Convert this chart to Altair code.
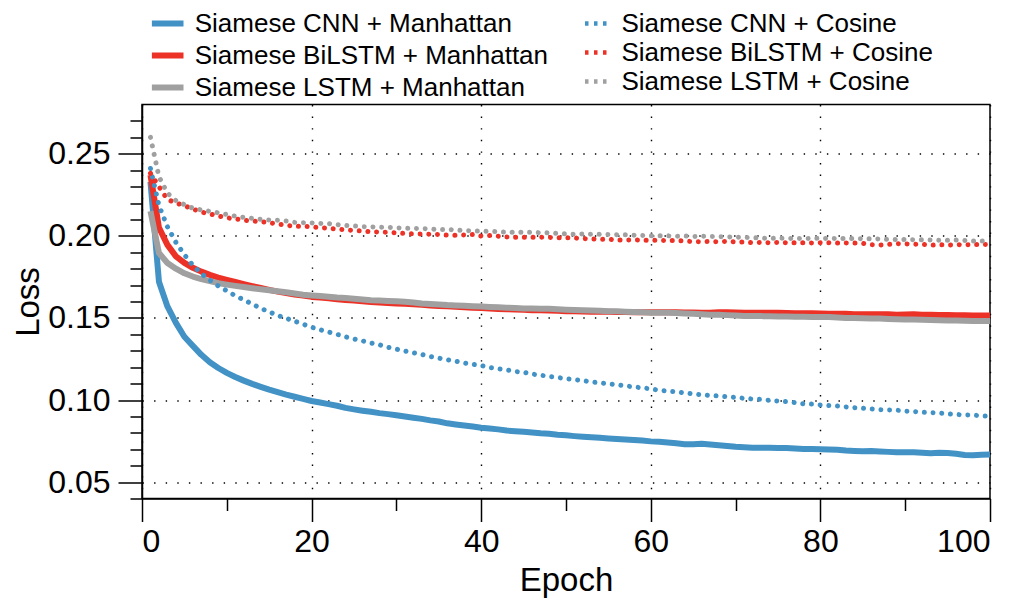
import altair as alt
import pandas as pd

epochs = list(range(1, 101))

cnn_manhattan = [
    0.2330, 0.1720, 0.1570, 0.1470, 0.1385, 0.1330, 0.1275, 0.1230, 0.1195, 0.1165,
    0.1140, 0.1118, 0.1098, 0.1080, 0.1063, 0.1048, 0.1033, 0.1020, 0.1007, 0.0994,
    0.0985, 0.0975, 0.0965, 0.0952, 0.0943, 0.0935, 0.0928, 0.0920, 0.0914, 0.0907,
    0.0899, 0.0892, 0.0885, 0.0876, 0.0869, 0.0858, 0.0851, 0.0845, 0.0838, 0.0831,
    0.0826, 0.0821, 0.0814, 0.0810, 0.0806, 0.0802, 0.0797, 0.0794, 0.0788, 0.0785,
    0.0780, 0.0776, 0.0773, 0.0770, 0.0766, 0.0763, 0.0760, 0.0757, 0.0753, 0.0748,
    0.0745, 0.0741, 0.0736, 0.0731, 0.0731, 0.0733, 0.0729, 0.0725, 0.0720, 0.0715,
    0.0712, 0.0709, 0.0709, 0.0709, 0.0708, 0.0707, 0.0704, 0.0702, 0.0701, 0.0700,
    0.0699, 0.0697, 0.0692, 0.0690, 0.0688, 0.0689, 0.0686, 0.0684, 0.0681, 0.0682,
    0.0682, 0.0679, 0.0676, 0.0678, 0.0677, 0.0672, 0.0665, 0.0663, 0.0666, 0.0668,
]

bilstm_manhattan = [
    0.2370, 0.2050, 0.1945, 0.1875, 0.1835, 0.1805, 0.1782, 0.1762, 0.1746, 0.1732,
    0.1719, 0.1706, 0.1694, 0.1683, 0.1671, 0.1660, 0.1651, 0.1643, 0.1636, 0.1628,
    0.1624, 0.1619, 0.1614, 0.1609, 0.1606, 0.1601, 0.1597, 0.1594, 0.1591, 0.1588,
    0.1586, 0.1583, 0.1580, 0.1576, 0.1573, 0.1571, 0.1568, 0.1565, 0.1562, 0.1560,
    0.1558, 0.1555, 0.1553, 0.1551, 0.1549, 0.1547, 0.1546, 0.1545, 0.1543, 0.1541,
    0.1540, 0.1539, 0.1538, 0.1537, 0.1537, 0.1536, 0.1536, 0.1535, 0.1535, 0.1534,
    0.1534, 0.1535, 0.1534, 0.1533, 0.1533, 0.1532, 0.1532, 0.1534, 0.1535, 0.1533,
    0.1532, 0.1531, 0.1531, 0.1532, 0.1531, 0.1530, 0.1529, 0.1529, 0.1528, 0.1527,
    0.1526, 0.1526, 0.1525, 0.1523, 0.1522, 0.1522, 0.1523, 0.1522, 0.1520, 0.1521,
    0.1522, 0.1520, 0.1519, 0.1518, 0.1518, 0.1517, 0.1516, 0.1515, 0.1515, 0.1515,
]

lstm_manhattan = [
    0.2150, 0.1895, 0.1835, 0.1800, 0.1772, 0.1752, 0.1737, 0.1724, 0.1712, 0.1703,
    0.1695, 0.1688, 0.1681, 0.1675, 0.1668, 0.1662, 0.1656, 0.1649, 0.1641, 0.1637,
    0.1634, 0.1629, 0.1624, 0.1621, 0.1617, 0.1612, 0.1608, 0.1606, 0.1603, 0.1601,
    0.1598, 0.1594, 0.1588, 0.1585, 0.1582, 0.1578, 0.1576, 0.1574, 0.1571, 0.1569,
    0.1567, 0.1565, 0.1562, 0.1560, 0.1558, 0.1557, 0.1556, 0.1556, 0.1553, 0.1550,
    0.1548, 0.1546, 0.1545, 0.1543, 0.1541, 0.1540, 0.1538, 0.1536, 0.1534, 0.1532,
    0.1531, 0.1532, 0.1530, 0.1527, 0.1525, 0.1522, 0.1520, 0.1519, 0.1517, 0.1514,
    0.1512, 0.1511, 0.1511, 0.1510, 0.1509, 0.1508, 0.1507, 0.1507, 0.1506, 0.1505,
    0.1505, 0.1503, 0.1500, 0.1499, 0.1498, 0.1497, 0.1496, 0.1494, 0.1492, 0.1491,
    0.1490, 0.1489, 0.1488, 0.1486, 0.1485, 0.1484, 0.1482, 0.1481, 0.1481, 0.1481,
]

cnn_cosine = [
    0.2410, 0.2185, 0.2055, 0.1960, 0.1885, 0.1820, 0.1770, 0.1730, 0.1695, 0.1665,
    0.1635, 0.1610, 0.1585, 0.1558, 0.1537, 0.1515, 0.1498, 0.1480, 0.1462, 0.1443,
    0.1428, 0.1414, 0.1400, 0.1385, 0.1372, 0.1360, 0.1347, 0.1336, 0.1321, 0.1310,
    0.1298, 0.1288, 0.1277, 0.1265, 0.1255, 0.1245, 0.1236, 0.1225, 0.1217, 0.1210,
    0.1198, 0.1190, 0.1184, 0.1174, 0.1169, 0.1158, 0.1151, 0.1143, 0.1137, 0.1130,
    0.1124, 0.1118, 0.1110, 0.1104, 0.1099, 0.1093, 0.1086, 0.1080, 0.1074, 0.1068,
    0.1059, 0.1054, 0.1050, 0.1043, 0.1037, 0.1032, 0.1027, 0.1025, 0.1020, 0.1016,
    0.1010, 0.1006, 0.1004, 0.0998, 0.0994, 0.0990, 0.0984, 0.0977, 0.0975, 0.0970,
    0.0966, 0.0963, 0.0958, 0.0953, 0.0950, 0.0946, 0.0941, 0.0939, 0.0938, 0.0932,
    0.0930, 0.0926, 0.0923, 0.0921, 0.0916, 0.0912, 0.0909, 0.0908, 0.0904, 0.0900,
]

bilstm_cosine = [
    0.2380, 0.2300, 0.2222, 0.2200, 0.2184, 0.2163, 0.2145, 0.2133, 0.2121, 0.2110,
    0.2103, 0.2095, 0.2090, 0.2087, 0.2080, 0.2072, 0.2064, 0.2059, 0.2059, 0.2055,
    0.2050, 0.2046, 0.2041, 0.2036, 0.2033, 0.2029, 0.2025, 0.2023, 0.2022, 0.2018,
    0.2014, 0.2012, 0.2011, 0.2010, 0.2008, 0.2004, 0.2004, 0.2005, 0.2008, 0.1999,
    0.2002, 0.1998, 0.1993, 0.1992, 0.1992, 0.1992, 0.1992, 0.1991, 0.1988, 0.1988,
    0.1987, 0.1983, 0.1982, 0.1978, 0.1980, 0.1974, 0.1974, 0.1976, 0.1973, 0.1973,
    0.1972, 0.1971, 0.1971, 0.1968, 0.1965, 0.1964, 0.1966, 0.1964, 0.1967, 0.1962,
    0.1962, 0.1958, 0.1960, 0.1958, 0.1960, 0.1958, 0.1958, 0.1958, 0.1957, 0.1958,
    0.1958, 0.1957, 0.1957, 0.1956, 0.1954, 0.1946, 0.1944, 0.1948, 0.1952, 0.1951,
    0.1949, 0.1948, 0.1943, 0.1946, 0.1943, 0.1947, 0.1945, 0.1947, 0.1947, 0.1948,
]

lstm_cosine = [
    0.2600, 0.2360, 0.2260, 0.2215, 0.2190, 0.2168, 0.2158, 0.2149, 0.2140, 0.2130,
    0.2120, 0.2113, 0.2106, 0.2100, 0.2097, 0.2095, 0.2090, 0.2082, 0.2080, 0.2079,
    0.2076, 0.2074, 0.2068, 0.2063, 0.2060, 0.2056, 0.2055, 0.2053, 0.2052, 0.2049,
    0.2046, 0.2045, 0.2044, 0.2042, 0.2037, 0.2039, 0.2036, 0.2032, 0.2030, 0.2028,
    0.2027, 0.2025, 0.2022, 0.2022, 0.2022, 0.2021, 0.2019, 0.2018, 0.2015, 0.2012,
    0.2010, 0.2011, 0.2010, 0.2009, 0.2008, 0.2007, 0.2006, 0.2004, 0.2002, 0.2000,
    0.2000, 0.2000, 0.1998, 0.1999, 0.1996, 0.1998, 0.1996, 0.1995, 0.1994, 0.1992,
    0.1990, 0.1989, 0.1986, 0.1984, 0.1986, 0.1985, 0.1984, 0.1983, 0.1984, 0.1985,
    0.1984, 0.1983, 0.1983, 0.1983, 0.1982, 0.1982, 0.1981, 0.1978, 0.1977, 0.1977,
    0.1976, 0.1976, 0.1975, 0.1973, 0.1973, 0.1974, 0.1972, 0.1968, 0.1968, 0.1970,
]

manhattan_names = ["Siamese CNN + Manhattan", "Siamese BiLSTM + Manhattan", "Siamese LSTM + Manhattan"]
cosine_names = ["Siamese CNN + Cosine", "Siamese BiLSTM + Cosine", "Siamese LSTM + Cosine"]
colors = ["#4292c6", "#ec3127", "#a0a0a0"]

x_major_ticks = [0, 20, 40, 60, 80, 100]
x_minor_ticks = [10, 30, 50, 70, 90]
y_major_ticks = [0.05, 0.10, 0.15, 0.20, 0.25]
y_minor_ticks = [0.04, 0.06, 0.07, 0.08, 0.09, 0.11, 0.12, 0.13, 0.14, 0.16, 0.17,
                 0.18, 0.19, 0.21, 0.22, 0.23, 0.24, 0.26, 0.27]


def long_frame(names, series_list):
    rows = []
    for name, values in zip(names, series_list):
        for e, v in zip(epochs, values):
            rows.append({"epoch": e, "loss": v, "series": name})
    return pd.DataFrame(rows)


man_df = long_frame(manhattan_names, [cnn_manhattan, bilstm_manhattan, lstm_manhattan])
cos_df = long_frame(cosine_names, [cnn_cosine, bilstm_cosine, lstm_cosine])

FONT = "Liberation Sans"

x_scale = alt.Scale(domain=[0, 100], nice=False, zero=False)
y_scale = alt.Scale(domain=[0.04, 0.28], nice=False, zero=False)

x_axis_major = alt.Axis(
    values=x_major_ticks, format="d", title="Epoch", orient="bottom",
    tickSize=23, tickWidth=1.5, tickColor="black",
    labelFont=FONT, labelFontSize=32, labelColor="black", labelPadding=5,
    titleFont=FONT, titleFontSize=33, titleFontWeight="normal", titleColor="black",
    titlePadding=7,
    domain=True, domainColor="black", domainWidth=1.5,
    grid=True, gridColor="black", gridDash=[1.4, 10.2], gridWidth=1.4,
)
y_axis_major = alt.Axis(
    values=y_major_ticks, format=".2f", title="Loss", orient="left",
    tickSize=24, tickWidth=1.5, tickColor="black",
    labelFont=FONT, labelFontSize=32, labelColor="black", labelPadding=8,
    titleFont=FONT, titleFontSize=33, titleFontWeight="normal", titleColor="black",
    titlePadding=2,
    domain=True, domainColor="black", domainWidth=1.5,
    grid=True, gridColor="black", gridDash=[1.4, 10.2], gridWidth=1.4,
)
x_axis_minor = alt.Axis(
    values=x_minor_ticks, orient="bottom", title=None, labels=False,
    tickSize=12, tickWidth=1.5, tickColor="black", domain=False, grid=False,
)
y_axis_minor = alt.Axis(
    values=y_minor_ticks, orient="left", title=None, labels=False,
    tickSize=12, tickWidth=1.5, tickColor="black", domain=False, grid=False,
)

legend_man = alt.Legend(
    orient="none", legendX=6.7, legendY=-100, direction="vertical", title=None,
    symbolType="stroke", symbolSize=1000, symbolStrokeWidth=6,
    labelFont=FONT, labelFontSize=26, labelColor="black", labelOffset=8,
    labelLimit=600, rowPadding=-7, padding=0,
)
legend_cos = alt.Legend(
    orient="none", legendX=438.5, legendY=-96, direction="vertical", title=None,
    symbolType="stroke", symbolSize=625, symbolStrokeWidth=4.5,
    symbolDash=[3.5, 5.5], symbolDashOffset=7,
    labelFont=FONT, labelFontSize=26, labelColor="black", labelOffset=11,
    labelLimit=600, rowPadding=1, padding=0,
)

manhattan = alt.Chart(man_df).mark_line(strokeWidth=6, strokeJoin="round").encode(
    x=alt.X("epoch:Q", scale=x_scale, axis=x_axis_major),
    y=alt.Y("loss:Q", scale=y_scale, axis=y_axis_major),
    color=alt.Color("series:N", scale=alt.Scale(domain=manhattan_names, range=colors),
                    legend=legend_man),
)

cosine = alt.Chart(cos_df).mark_line(strokeWidth=5, strokeDash=[0.01, 8.7], strokeCap="round").encode(
    x=alt.X("epoch:Q", scale=x_scale, axis=x_axis_minor),
    y=alt.Y("loss:Q", scale=y_scale, axis=y_axis_minor),
    color=alt.Color("series:N", scale=alt.Scale(domain=cosine_names, range=colors),
                    legend=legend_cos),
)

chart = (
    alt.layer(manhattan, cosine)
    .resolve_scale(color="independent")
    .resolve_axis(x="independent", y="independent")
    .resolve_legend(color="independent")
    .properties(
        width=848, height=394,
        autosize=alt.AutoSizeParams(type="none"),
        padding={"left": 134, "top": 96.5, "right": 23, "bottom": 102},
        background="white",
    )
    .configure_view(stroke="black", strokeWidth=1.5)
)

chart.save("out.html", embed_options={"renderer": "svg", "actions": False})
